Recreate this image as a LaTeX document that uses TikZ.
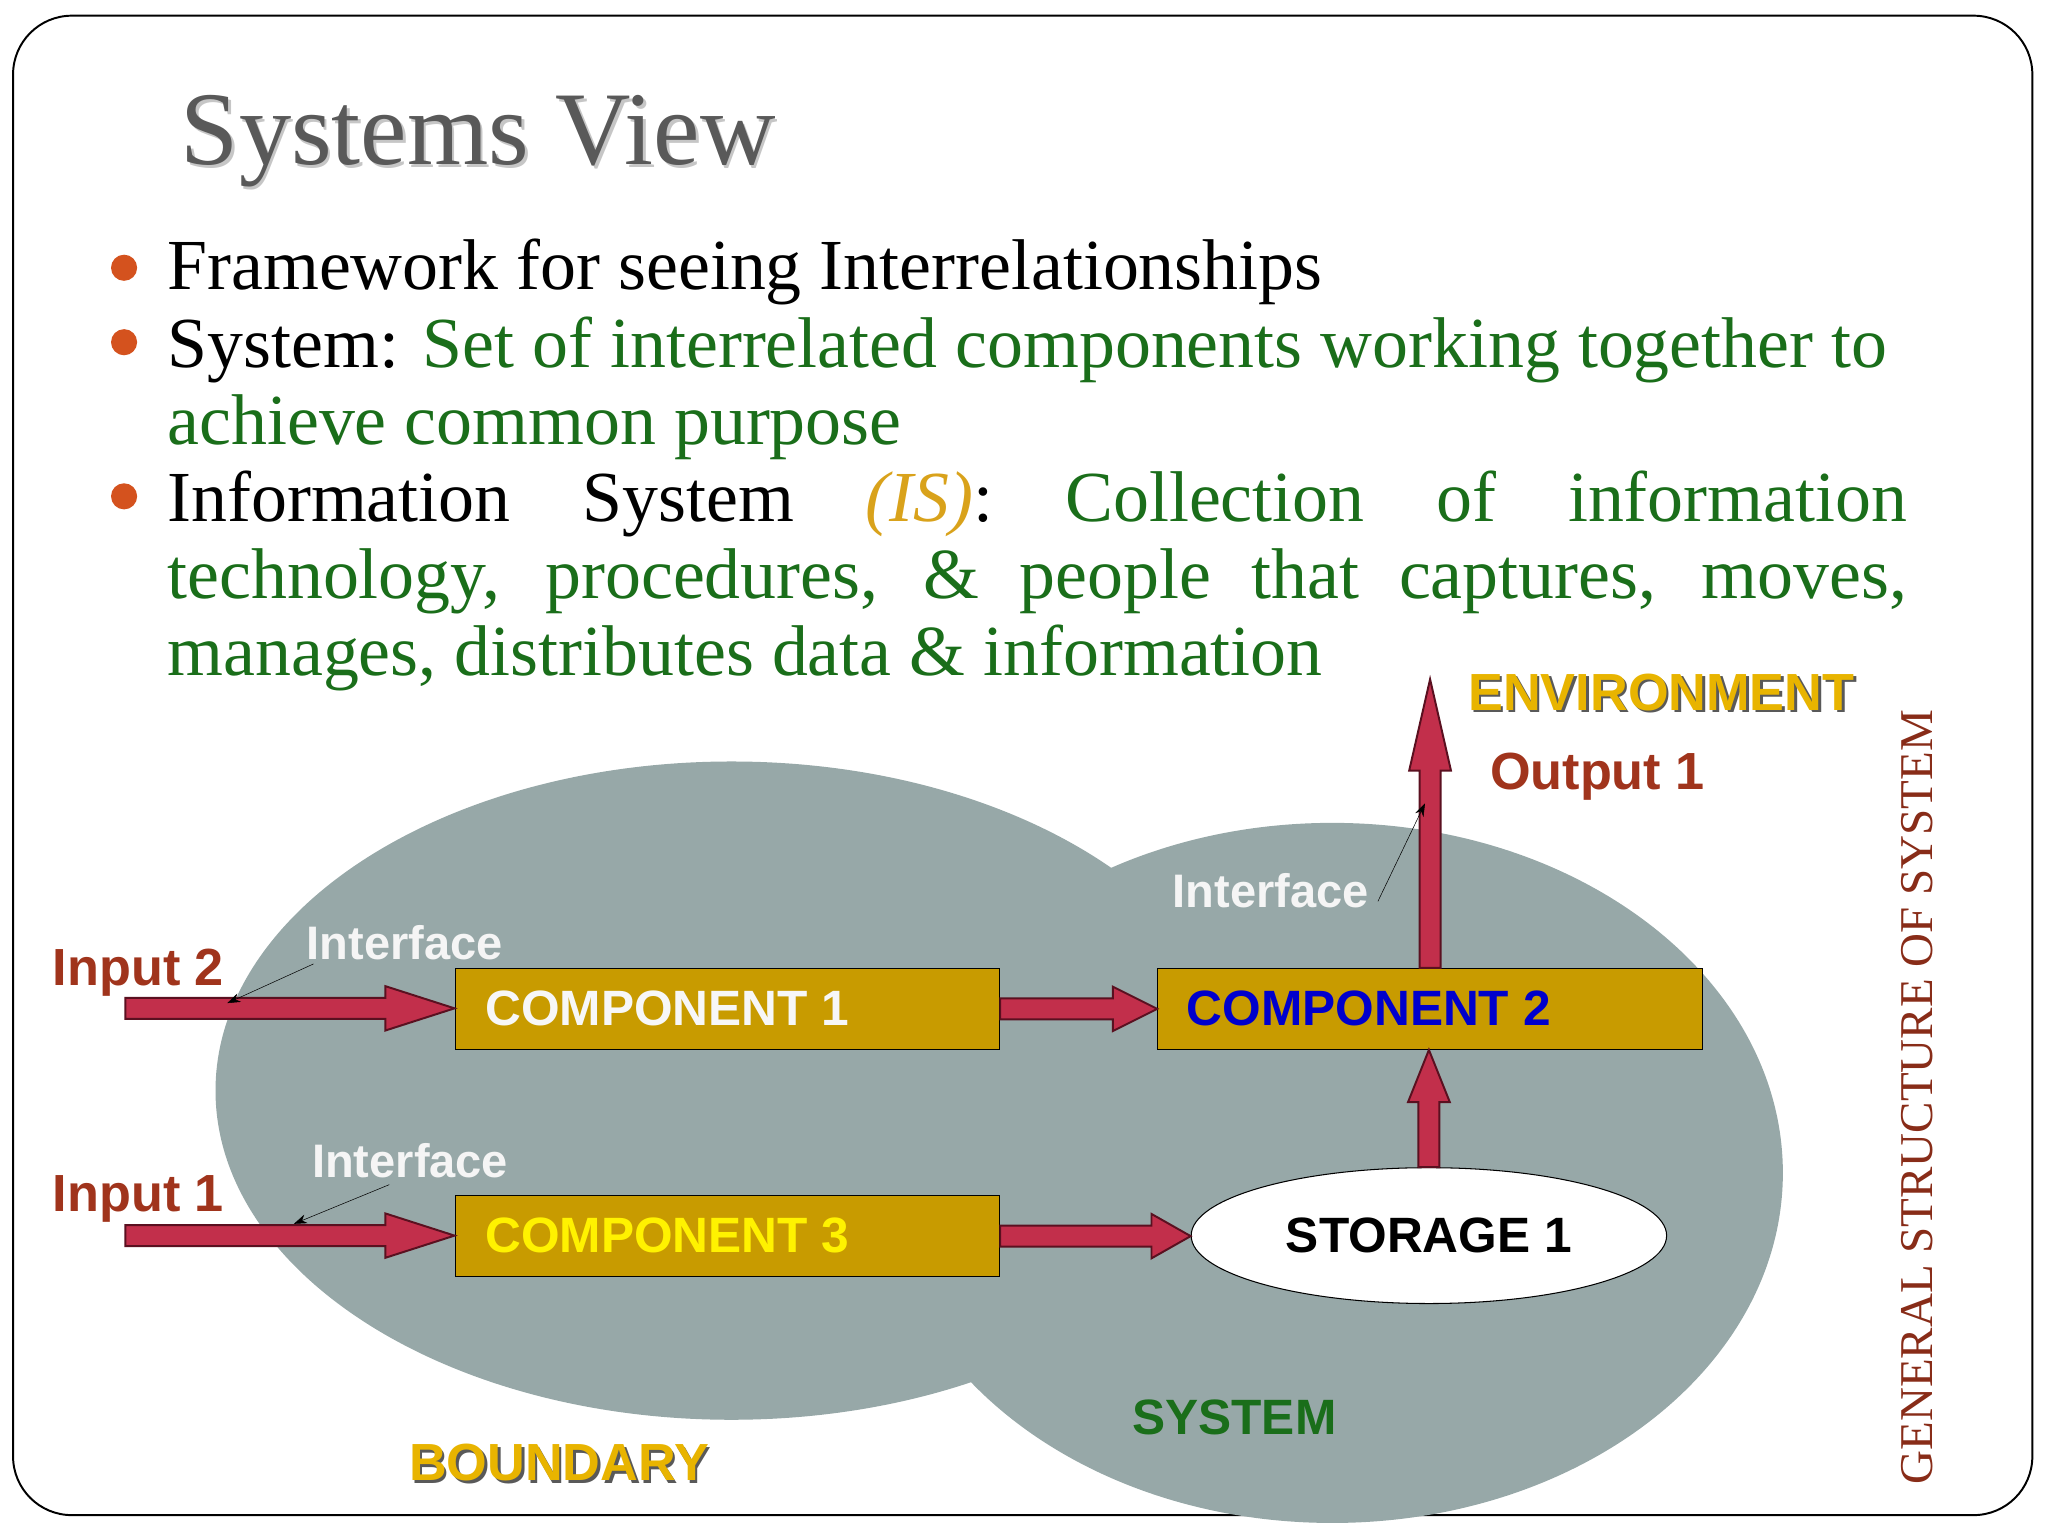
\documentclass[tikz,border=0pt]{standalone}
\usepackage{fontspec}
\setmainfont{Liberation Serif}
\newfontfamily\sans{Liberation Sans}
\usetikzlibrary{calc,arrows.meta,shapes.geometric}
\definecolor{blob}{HTML}{97A8A8}
\definecolor{comp}{HTML}{C89B00}
\definecolor{crim}{HTML}{C22F4B}
\definecolor{dk}{HTML}{5A1020}
\definecolor{lab}{HTML}{A0341C}
\definecolor{grn}{HTML}{1A6E1A}
\definecolor{gold}{HTML}{E8B400}
\definecolor{isc}{HTML}{D9A21B}
\definecolor{bul}{HTML}{D4521E}
\tikzset{
 box/.style={draw=black, thick, fill=comp, minimum width=417pt, minimum height=62pt, anchor=north west, inner sep=0},
 ctext/.style={font=\sans\bfseries\fontsize{38}{40}\selectfont, anchor=west},
 lbl/.style={font=\sans\bfseries\fontsize{40}{42}\selectfont, text=lab},
 ifc/.style={font=\sans\bfseries\fontsize{36}{38}\selectfont, text=white!92!gray},
 ptr/.style={-{Stealth[length=10pt,width=7pt]}, thin, black},
 body/.style={font=\fontsize{55}{58}\selectfont, anchor=base west, inner sep=0},
}
\newcommand\harr[3]{\path let \p1=(#1), \p2=(#2) in [fill=crim, draw=dk, line width=1.5pt]
 (\x1,\y1+8pt) -- (\x2-#3,\y1+8pt) -- (\x2-#3,\y1+17pt) -- (\x2,\y1) -- (\x2-#3,\y1-17pt) -- (\x2-#3,\y1-8pt) -- (\x1,\y1-8pt) -- cycle;}
\newcommand\varr[3]{\path let \p1=(#1), \p2=(#2) in [fill=crim, draw=dk, line width=1.5pt]
 (\x1-8pt,\y1) -- (\x1-8pt,\y2-#3) -- (\x1-16pt,\y2-#3) -- (\x1,\y2) -- (\x1+16pt,\y2-#3) -- (\x1+8pt,\y2-#3) -- (\x1+8pt,\y1) -- cycle;}
\begin{document}
\begin{tikzpicture}[x=1pt,y=-1pt]
\useasboundingbox (0,0) rectangle (1568,1176);
\draw[line width=1.5pt, rounded corners=45pt] (10,12) rectangle (1556,1160);
% blob
\fill[blob] (560,835) ellipse [x radius=395, y radius=252];
\fill[blob] (1020,898) ellipse [x radius=345, y radius=268];
% title
\node[font=\fontsize{80}{90}\selectfont, text=gray!45, anchor=base west] at (137,128) {Systems View};
\node[font=\fontsize{80}{90}\selectfont, text=black!65, anchor=base west] (title) at (135,126) {Systems View};
% bullets
\foreach \y in {205,262,380} \fill[bul] (95,\y) circle (10);
\node[body] at (128,222) {Framework for seeing Interrelationships};
\node[body] at (128,281) {System: \textcolor{grn}{Set of interrelated components working together to}};
\node[body, text=grn] at (128,340) {achieve common purpose};
\node[body] at (128,399) {\makebox[1332pt][s]{Information System \textcolor{isc}{\textit{(IS)}}: \textcolor{grn}{Collection of information}}};
\node[body, text=grn] at (128,458) {\makebox[1332pt][s]{technology, procedures, \& people that captures, moves,}};
\node[body, text=grn] at (128,517) {manages, distributes data \& information};
% components
\node[box] (c1) at (348,741) {};
\node[ctext, text=white!94!gray] (t1) at (368,772) {COMPONENT 1};
\node[box] (c2) at (886,741) {};
\node[ctext, text=blue!80!black] (t2) at (905,772) {COMPONENT 2};
\node[box] (c3) at (348,915) {};
\node[ctext, text=yellow] (t3) at (368,946) {COMPONENT 3};
\node[draw=black, thick, fill=white, ellipse, minimum width=364pt, minimum height=104pt, inner sep=0, font=\sans\bfseries\fontsize{38}{40}\selectfont] (st) at (1094,946) {STORAGE 1};
% arrows
\coordinate (in2) at (96,772);
\coordinate (in1) at (96,946);
\coordinate (out) at (1094,520);
\harr{in2}{c1.west}{53pt}
\harr{in1}{c3.west}{53pt}
\harr{c1.east}{c2.west}{34pt}
\harr{c3.east}{st.west}{30pt}
\varr{st.north}{c2.south}{40pt}
\varr{c2.north}{out}{70pt}
% labels
\node[lbl] (i2) at (106,745) {Input 2};
\node[lbl] (i1) at (106,918) {Input 1};
\node[ifc] (f1) at (310,722) {Interface};
\node[ifc] (f2) at (314,889) {Interface};
\node[ifc] (f3) at (973,682) {Interface};
\coordinate (p1) at (174,768);
\coordinate (p2) at (225,937);
\coordinate (p3) at (1091,615);
\draw[ptr] (240,738) -- (p1);
\draw[ptr] (298,907) -- (p2);
\draw[ptr] (1055,690) -- (p3);
\node[lbl] (o1) at (1223,595) {Output 1};
\node[font=\sans\bfseries\fontsize{40}{42}\selectfont, text=gray!70!black] at (1274,532) {ENVIRONMENT};
\node[font=\sans\bfseries\fontsize{40}{42}\selectfont, text=gold] (env) at (1272,530) {ENVIRONMENT};
\node[font=\sans\bfseries\fontsize{38}{40}\selectfont, text=grn] (sys) at (945,1085) {SYSTEM};
\node[font=\sans\bfseries\fontsize{40}{42}\selectfont, text=gray!70!black] at (430,1122) {BOUNDARY};
\node[font=\sans\bfseries\fontsize{40}{42}\selectfont, text=gold] (bnd) at (428,1120) {BOUNDARY};
\node[rotate=90, font=\fontsize{36}{38}\selectfont, text=lab!85!black] (gs) at (1468,840) {GENERAL STRUCTURE OF SYSTEM};
\end{tikzpicture}
\end{document}
